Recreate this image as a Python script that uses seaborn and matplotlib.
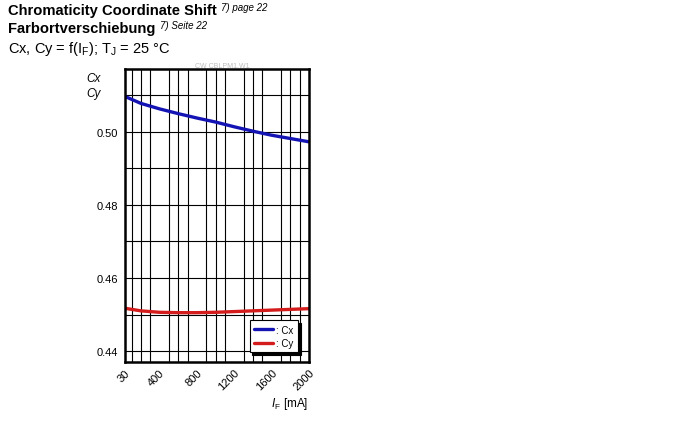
import numpy as np
import seaborn as sns
import matplotlib.pyplot as plt
import pandas as pd
from matplotlib.ticker import FixedLocator, MultipleLocator

# forward current in mA
current = [30, 200, 400, 600, 800, 1000, 1200, 1400, 1600, 1800, 2000]
cx = [0.5096, 0.5077, 0.5062, 0.5049, 0.5037, 0.5026, 0.5013, 0.5001, 0.4990, 0.4981, 0.4972]
cy = [0.4517, 0.4510, 0.4506, 0.4505, 0.4505, 0.4506, 0.4508, 0.4510, 0.4512, 0.4514, 0.4516]
x_ticks = [30, 400, 800, 1200, 1600, 2000]
y_ticks = [0.44, 0.46, 0.48, 0.50]

df = pd.DataFrame({"IF": current * 2,
                   "value": cx + cy,
                   "series": [": Cx"] * len(cx) + [": Cy"] * len(cy)})

sns.set_style("white")
plt.rcParams["font.family"] = ["Liberation Sans", "DejaVu Sans"]
plt.rcParams["mathtext.fontset"] = "custom"
plt.rcParams["mathtext.rm"] = "Liberation Sans"
plt.rcParams["mathtext.it"] = "Liberation Sans:italic"
plt.rcParams["text.color"] = "black"
plt.rcParams["xtick.color"] = "black"
plt.rcParams["ytick.color"] = "black"

W, H = 690, 427
fig = plt.figure(figsize=(W / 100, H / 100), dpi=100)
ax = fig.add_axes([125 / W, 1 - 362.7 / H, 184 / W, 292.7 / H])

sns.lineplot(data=df, x="IF", y="value", hue="series",
             palette=["#1414b4", "#d41c1c"], linewidth=2.4, ax=ax)

ax.set_xlim(30, 2000)
ax.set_ylim(0.4371, 0.5171)
ax.xaxis.set_major_locator(FixedLocator(x_ticks))
ax.xaxis.set_minor_locator(FixedLocator(list(range(100, 2000, 100))))
ax.yaxis.set_major_locator(FixedLocator(y_ticks))
ax.yaxis.set_minor_locator(MultipleLocator(0.01))
ax.set_yticklabels([f"{v:.2f}" for v in y_ticks])
ax.grid(which="minor", axis="x", color="black", linewidth=0.8)
ax.grid(which="both", axis="y", color="black", linewidth=0.8)
ax.set_axisbelow(True)
ax.tick_params(axis="x", which="both", length=0, labelsize=8, pad=4)
ax.tick_params(axis="y", which="major", length=3, width=0.8, labelsize=8, pad=2)
ax.tick_params(axis="y", which="minor", length=0)
for lab in ax.get_xticklabels():
    lab.set_rotation(45)
    lab.set_ha("right")
    lab.set_rotation_mode("anchor")
for s in ax.spines.values():
    s.set_color("black")
    s.set_linewidth(1.8)
ax.set_xlabel("")
ax.set_ylabel("")

leg = ax.legend(loc="lower right", bbox_to_anchor=(0.94, 0.032), fontsize=7,
                frameon=True, fancybox=False, shadow={"color": "black", "alpha": 1},
                edgecolor="black", borderaxespad=0,
                handlelength=2.0, borderpad=0.45, labelspacing=0.35, handletextpad=0.3)
leg.get_frame().set_linewidth(0.8)
leg.get_frame().set_alpha(1)


def px(x, y):
    return x / W, 1 - y / H


fig.text(*px(8, 15), "Chromaticity Coordinate Shift", fontsize=10.6, fontweight="bold", va="baseline")
fig.text(*px(221, 11), "7) page 22", fontsize=7, style="italic", va="baseline")
fig.text(*px(8, 33), "Farbortverschiebung", fontsize=10.6, fontweight="bold", va="baseline")
fig.text(*px(160, 29), "7) Seite 22", fontsize=7, style="italic", va="baseline")
fig.text(*px(8, 53), r"Cx, Cy = f(I$_\mathregular{F}$); T$_\mathregular{J}$ = 25 °C",
         fontsize=10.5, va="baseline")
fig.text(*px(222, 68), "CW CBLPM1.W1", fontsize=5, color="#bdbdbd", ha="center", va="baseline")
fig.text(*px(101, 82), "Cx", fontsize=8.5, style="italic", ha="right", va="baseline")
fig.text(*px(101, 97), "Cy", fontsize=8.5, style="italic", ha="right", va="baseline")
fig.text(*px(308, 407), r"$I$$_\mathregular{F}$ [mA]", fontsize=8.5, ha="right", va="baseline")

plt.savefig("out.png", dpi=100)
